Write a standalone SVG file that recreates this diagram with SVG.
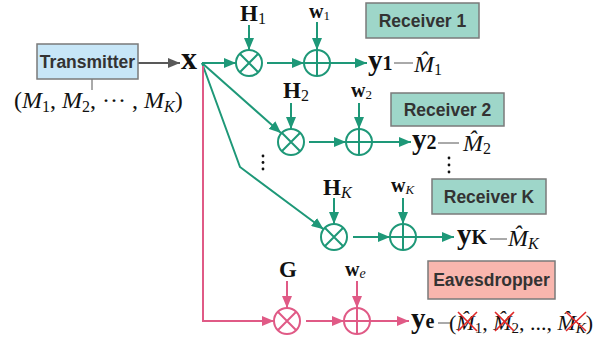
<svg xmlns="http://www.w3.org/2000/svg" width="611" height="339" viewBox="0 0 611 339">
<style>
.box{stroke:#7a7a7a;stroke-width:1.5}
.lbl{font-family:"Liberation Sans",Arial,sans-serif;font-weight:bold;font-size:17.5px;fill:#333;text-anchor:middle}
.m{font-family:"Liberation Serif","Times New Roman",serif}
.t{stroke:#1e9878;stroke-width:2;fill:none}
.p{stroke:#e05a86;stroke-width:2;fill:none}
.thin{stroke:#555;stroke-width:1;fill:none}
.x{stroke:#e02a2a;stroke-width:1.6}
</style>
<defs>
<marker id="at" markerUnits="userSpaceOnUse" markerWidth="12" markerHeight="10" refX="12" refY="5" orient="auto"><path d="M0,0 L12,5 L0,10 z" fill="#1e9878"/></marker>
<marker id="ap" markerUnits="userSpaceOnUse" markerWidth="12" markerHeight="10" refX="12" refY="5" orient="auto"><path d="M0,0 L12,5 L0,10 z" fill="#e05a86"/></marker>
<marker id="ag" markerUnits="userSpaceOnUse" markerWidth="12" markerHeight="10" refX="12" refY="5" orient="auto"><path d="M0,0 L12,5 L0,10 z" fill="#595959"/></marker>
</defs>

<g id="connectors">
<line x1="138" y1="63" x2="180" y2="63" stroke="#595959" stroke-width="2" marker-end="url(#ag)"/>
<line x1="92" y1="79" x2="92" y2="90" class="thin"/>
<line x1="202" y1="63" x2="236" y2="63" class="t" marker-end="url(#at)"/>
<line x1="249" y1="25" x2="249" y2="50" class="t" marker-end="url(#at)"/>
<line x1="267" y1="63" x2="304" y2="63" class="t" marker-end="url(#at)"/>
<line x1="317" y1="22" x2="317" y2="50" class="t" marker-end="url(#at)"/>
<line x1="330" y1="63" x2="367" y2="63" class="t" marker-end="url(#at)"/>
<line x1="394" y1="63" x2="413" y2="63" class="thin"/>
<line x1="202" y1="63" x2="281" y2="133" class="t" marker-end="url(#at)"/>
<line x1="291" y1="103" x2="291" y2="129" class="t" marker-end="url(#at)"/>
<line x1="309" y1="142" x2="346" y2="142" class="t" marker-end="url(#at)"/>
<line x1="359" y1="103" x2="359" y2="129" class="t" marker-end="url(#at)"/>
<line x1="372" y1="142" x2="411" y2="142" class="t" marker-end="url(#at)"/>
<line x1="438" y1="143" x2="459" y2="143" class="thin"/>
<polyline points="202,63 240,167 323.6,229.2" class="t" marker-end="url(#at)"/>
<line x1="334" y1="198" x2="334" y2="224" class="t" marker-end="url(#at)"/>
<line x1="353" y1="237" x2="390" y2="237" class="t" marker-end="url(#at)"/>
<line x1="403" y1="198" x2="403" y2="224" class="t" marker-end="url(#at)"/>
<line x1="416" y1="237" x2="454" y2="237" class="t" marker-end="url(#at)"/>
<line x1="490" y1="239" x2="507" y2="239" class="thin"/>
<polyline points="203,66 203,321 274,321" class="p" marker-end="url(#ap)"/>
<line x1="287" y1="281" x2="287" y2="308" class="p" marker-end="url(#ap)"/>
<line x1="306" y1="321" x2="344" y2="321" class="p" marker-end="url(#ap)"/>
<line x1="357" y1="281" x2="357" y2="308" class="p" marker-end="url(#ap)"/>
<line x1="370" y1="321" x2="409" y2="321" class="p" marker-end="url(#ap)"/>
<line x1="438" y1="323" x2="451" y2="323" class="thin"/>
</g>

<g id="transmitter">
<rect x="37" y="44" width="101" height="35" fill="#c7e6f7" class="box"/>
<text x="87.5" y="68" class="lbl">Transmitter</text>
<text x="14" y="108" class="m" font-size="24" fill="#111"><tspan>(</tspan><tspan font-style="italic">M</tspan><tspan font-size="16" dy="4">1</tspan><tspan dy="-4">, </tspan><tspan font-style="italic">M</tspan><tspan font-size="16" dy="4">2</tspan><tspan dy="-4">, ··· , </tspan><tspan font-style="italic">M</tspan><tspan font-size="16" font-style="italic" dy="4">K</tspan><tspan dy="-4">)</tspan></text>
</g>

<g id="x-node">
<text x="181" y="69" class="m" font-size="32" font-weight="bold" fill="#111">x</text>
</g>

<g id="receiver1">
<rect x="366" y="3" width="113" height="35" fill="#9ed6c9" class="box"/>
<text x="422.5" y="27" class="lbl">Receiver 1</text>
</g>
<g id="receiver2">
<rect x="391" y="93" width="113" height="33" fill="#9ed6c9" class="box"/>
<text x="447.5" y="116" class="lbl">Receiver 2</text>
</g>
<g id="receiverK">
<rect x="432" y="179" width="114" height="35" fill="#9ed6c9" class="box"/>
<text x="489" y="203" class="lbl">Receiver K</text>
</g>
<g id="eavesdropper">
<rect x="428" y="261" width="127" height="38" fill="#f9b6ae" class="box"/>
<text x="491.5" y="286" class="lbl">Eavesdropper</text>
</g>

<g id="row1">
<text x="240" y="21" class="m" font-size="23" fill="#111"><tspan font-weight="bold">H</tspan><tspan font-size="16" dy="3">1</tspan></text>
<text x="309" y="18" class="m" font-size="20" fill="#111"><tspan font-weight="bold">w</tspan><tspan font-size="13" dy="2">1</tspan></text>
<g class="t"><circle cx="249" cy="63" r="13"/><path d="M239.8,53.8 L258.2,72.2 M258.2,53.8 L239.8,72.2"/></g>
<g class="t"><circle cx="317" cy="63" r="13"/><path d="M304,63 H330 M317,50 V76"/></g>
<text x="368" y="70" class="m" font-size="29" font-weight="bold" fill="#111">y<tspan font-size="20">1</tspan></text>
<text x="414" y="72" class="m" font-size="24" fill="#111"><tspan font-style="italic">M̂</tspan><tspan font-size="16" dy="3">1</tspan></text>
</g>

<g id="row2">
<text x="283" y="98" class="m" font-size="23" fill="#111"><tspan font-weight="bold">H</tspan><tspan font-size="16" dy="3">2</tspan></text>
<text x="351" y="97" class="m" font-size="20" fill="#111"><tspan font-weight="bold">w</tspan><tspan font-size="13" dy="2">2</tspan></text>
<g class="t"><circle cx="291" cy="142" r="13"/><path d="M281.8,132.8 L300.2,151.2 M300.2,132.8 L281.8,151.2"/></g>
<g class="t"><circle cx="359" cy="142" r="13"/><path d="M346,142 H372 M359,129 V155"/></g>
<text x="412" y="149" class="m" font-size="29" font-weight="bold" fill="#111">y<tspan font-size="20">2</tspan></text>
<text x="463" y="151" class="m" font-size="24" fill="#111"><tspan font-style="italic">M̂</tspan><tspan font-size="16" dy="3">2</tspan></text>
<g fill="#111"><circle cx="263" cy="156" r="1.4"/><circle cx="263" cy="162.5" r="1.4"/><circle cx="263" cy="169" r="1.4"/>
<circle cx="449" cy="158" r="1.4"/><circle cx="449" cy="165" r="1.4"/><circle cx="449" cy="172" r="1.4"/></g>
</g>

<g id="rowK">
<text x="323" y="195" class="m" font-size="23" fill="#111"><tspan font-weight="bold">H</tspan><tspan font-size="16" font-style="italic" dy="3">K</tspan></text>
<text x="391" y="192" class="m" font-size="20" fill="#111"><tspan font-weight="bold">w</tspan><tspan font-size="13" font-style="italic" dy="2">K</tspan></text>
<g class="t"><circle cx="334" cy="237" r="13"/><path d="M324.8,227.8 L343.2,246.2 M343.2,227.8 L324.8,246.2"/></g>
<g class="t"><circle cx="403" cy="237" r="13"/><path d="M390,237 H416 M403,224 V250"/></g>
<text x="457" y="244" class="m" font-size="29" font-weight="bold" fill="#111">y<tspan font-size="20">K</tspan></text>
<text x="508" y="246" class="m" font-size="24" fill="#111"><tspan font-style="italic">M̂</tspan><tspan font-size="16" font-style="italic" dy="3">K</tspan></text>
</g>

<g id="rowE">
<text x="279" y="277" class="m" font-size="23" font-weight="bold" fill="#111">G</text>
<text x="345" y="276" class="m" font-size="20" fill="#111"><tspan font-weight="bold">w</tspan><tspan font-size="14" font-style="italic" dy="2">e</tspan></text>
<g class="p"><circle cx="287" cy="321" r="13"/><path d="M277.8,311.8 L296.2,330.2 M296.2,311.8 L277.8,330.2"/></g>
<g class="p"><circle cx="357" cy="321" r="13"/><path d="M344,321 H370 M357,308 V334"/></g>
<text x="411" y="328" class="m" font-size="29" font-weight="bold" fill="#111">y<tspan font-size="20">e</tspan></text>
<text x="449" y="330" class="m" font-size="22" fill="#111">(<tspan font-style="italic">M̂</tspan><tspan font-size="15" dy="3">1</tspan><tspan dy="-3">, </tspan><tspan font-style="italic">M̂</tspan><tspan font-size="15" dy="3">2</tspan><tspan dy="-3">, ..., </tspan><tspan font-style="italic">M̂</tspan><tspan font-size="15" font-style="italic" dy="3">K</tspan><tspan dy="-3">)</tspan></text>
<g class="x"><path d="M458,312 L477,331 M477,312 L458,331"/><path d="M495,312 L514,331 M514,312 L495,331"/><path d="M566,312 L586,331 M586,312 L566,331"/></g>
</g>
</svg>
